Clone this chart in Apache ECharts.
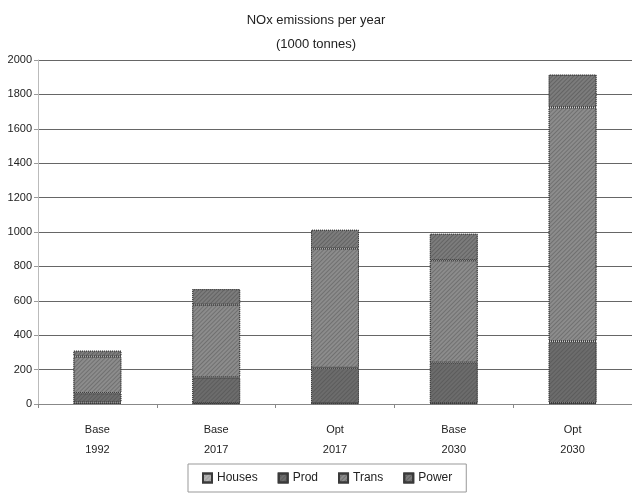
<!DOCTYPE html>
<html>
<head>
<meta charset="utf-8">
<script src="https://cdn.jsdelivr.net/npm/echarts@6/dist/echarts.min.js"></script>
<style>
html, body { margin: 0; padding: 0; background: #fff; }
#chart { width: 632px; height: 494px; }
</style>
</head>
<body>
<div id="chart"></div>
<script>
var categories = ['Base\n1992', 'Base\n2017', 'Opt\n2017', 'Base\n2030', 'Opt\n2030'];
var houses = [8, 5, 5, 5, 5];
var prod = [55, 150, 205, 235, 360];
var trans = [212, 422, 695, 596, 1360];
var power = [35, 91, 108, 154, 190];
var yTicks = [0, 200, 400, 600, 800, 1000, 1200, 1400, 1600, 1800, 2000];

var dom = document.getElementById('chart');
var myChart = echarts.init(dom);

function hatch(c) {
    return {
        symbol: 'rect',
        dashArrayX: [1, 0],
        dashArrayY: [1, 2],
        rotation: -Math.PI / 4,
        color: c
    };
}

function seg(name, data, color, decalColor) {
    return {
        name: name,
        type: 'bar',
        stack: 'nox',
        barWidth: 48,
        data: data,
        itemStyle: {
            color: color,
            borderColor: '#3a3a3a',
            borderWidth: 1,
            borderType: 'dotted',
            decal: hatch(decalColor)
        }
    };
}

var option = {
    animation: false,
    backgroundColor: '#ffffff',
    textStyle: { fontFamily: 'Liberation Sans, Arial, sans-serif' },
    title: {
        text: 'NOx emissions per year\n(1000 tonnes)',
        left: 'center',
        top: 3,
        textStyle: { fontSize: 13, fontWeight: 'normal', color: '#222', lineHeight: 24 }
    },
    legend: {
        bottom: 2,
        left: 188,
        icon: 'rect',
        itemWidth: 9,
        itemHeight: 9,
        itemGap: 20,
        padding: [8, 14],
        borderColor: '#999',
        borderWidth: 1,
        textStyle: { fontSize: 12, color: '#222' },
        data: ['Houses', 'Prod', 'Trans', 'Power']
    },
    grid: { left: 38, top: 60, width: 597, height: 344, containLabel: false },
    xAxis: {
        type: 'category',
        data: categories,
        axisLine: { lineStyle: { color: '#888' } },
        axisTick: { show: true, alignWithLabel: false, length: 4, lineStyle: { color: '#888' } },
        axisLabel: { fontSize: 11, color: '#222', lineHeight: 20, margin: 16 }
    },
    yAxis: {
        type: 'value',
        min: yTicks[0],
        max: yTicks[yTicks.length - 1],
        interval: yTicks[1] - yTicks[0],
        axisLine: { show: true, lineStyle: { color: '#bbb' } },
        axisTick: { show: true, length: 4, lineStyle: { color: '#999' } },
        axisLabel: { fontSize: 11, color: '#222', margin: 6, formatter: function (v) { return String(v); } },
        splitLine: { lineStyle: { color: '#666', width: 1 } }
    },
    series: [
        seg('Houses', houses, '#b4b4b4', 'rgba(0,0,0,0.12)'),
        seg('Prod', prod, '#6c6c6c', 'rgba(0,0,0,0.15)'),
        seg('Trans', trans, '#8c8c8c', 'rgba(0,0,0,0.2)'),
        seg('Power', power, '#7c7c7c', 'rgba(0,0,0,0.2)')
    ]
};

myChart.setOption(option);
</script>
</body>
</html>
